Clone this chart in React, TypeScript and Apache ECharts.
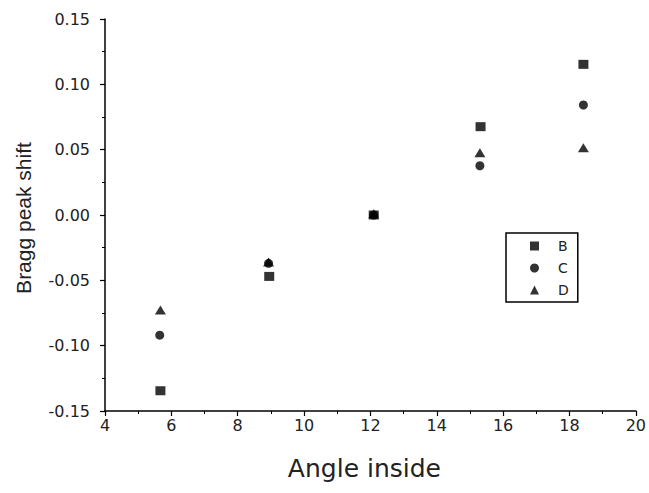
import React, { useEffect, useRef } from "react";
import * as echarts from "echarts";

const seriesNames = ["B", "C", "D"];
const xB = [5.67, 8.95, 12.1, 15.32, 18.42];
const yB = [-0.1345, -0.047, 0.0, 0.0676, 0.1153];
const xC = [5.65, 8.93, 12.1, 15.3, 18.42];
const yC = [-0.092, -0.037, 0.0, 0.0377, 0.0842];
const xD = [5.67, 8.93, 12.1, 15.3, 18.42];
const yD = [-0.0727, -0.036, 0.001, 0.0477, 0.0515];
const xLabel = "Angle inside";
const yLabel = "Bragg peak shift";

const zip = (xs: number[], ys: number[]) => xs.map((x, i) => [x, ys[i]]);

export default function App() {
  const ref = useRef<HTMLDivElement>(null);
  useEffect(() => {
    if (!ref.current) return;
    const chart = echarts.init(ref.current, null, { renderer: "svg" });
    const font = "DejaVu Sans, sans-serif";
    const lib = "Liberation Sans, Arial, sans-serif";
    const axisCommon = {
      axisLine: { show: true, onZero: false, lineStyle: { color: "#000", width: 1.5 } },
      axisTick: { show: true, inside: false, length: 5, lineStyle: { color: "#000", width: 1.2 } },
      minorTick: { show: true, splitNumber: 2, length: 3, lineStyle: { color: "#000", width: 1 } },
      splitLine: { show: false },
      axisLabel: { color: "#222", fontSize: 16, fontFamily: font },
    };
    chart.setOption({
      animation: false,
      backgroundColor: "#fff",
      grid: { left: 105, right: 9, top: 19, bottom: 82, containLabel: false },
      xAxis: {
        type: "value",
        min: 4,
        max: 20,
        interval: 2,
        name: xLabel,
        nameLocation: "middle",
        nameGap: 45,
        nameTextStyle: { color: "#222", fontSize: 25, fontFamily: font, padding: [0, 12, 0, 0] },
        ...axisCommon,
        axisLabel: { ...axisCommon.axisLabel, margin: 6 },
      },
      yAxis: {
        type: "value",
        min: -0.15,
        max: 0.15,
        interval: 0.05,
        name: yLabel,
        nameLocation: "middle",
        nameGap: 71,
        nameTextStyle: { color: "#222", fontSize: 21, fontFamily: lib, padding: [0, 6, 0, 0] },
        ...axisCommon,
        axisLabel: {
          ...axisCommon.axisLabel,
          margin: 15,
          formatter: (v: number) => v.toFixed(2),
        },
      },
      legend: {
        show: true,
        orient: "vertical",
        left: 506,
        top: 233,
        data: seriesNames,
        itemWidth: 9,
        itemHeight: 9,
        itemGap: 8,
        padding: [6, 9, 5, 24],
        borderColor: "#000",
        borderWidth: 1.5,
        borderRadius: 0,
        textStyle: { color: "#222", fontSize: 14, fontFamily: font, lineHeight: 14, padding: [0, 0, 0, 14] },
      },
      series: [
        {
          name: seriesNames[0],
          type: "scatter",
          symbol: "rect",
          symbolSize: [10, 9],
          itemStyle: { color: "#000" },
          data: zip(xB, yB),
        },
        {
          name: seriesNames[1],
          type: "scatter",
          symbol: "circle",
          symbolSize: 9,
          itemStyle: { color: "#000" },
          data: zip(xC, yC),
        },
        {
          name: seriesNames[2],
          type: "scatter",
          symbol: "triangle",
          symbolSize: [11, 9],
          itemStyle: { color: "#000" },
          data: zip(xD, yD),
        },
      ],
    });
    return () => chart.dispose();
  }, []);
  return <div ref={ref} style={{ width: 649, height: 493, position: "absolute", left: 0, top: 0 }} />;
}
